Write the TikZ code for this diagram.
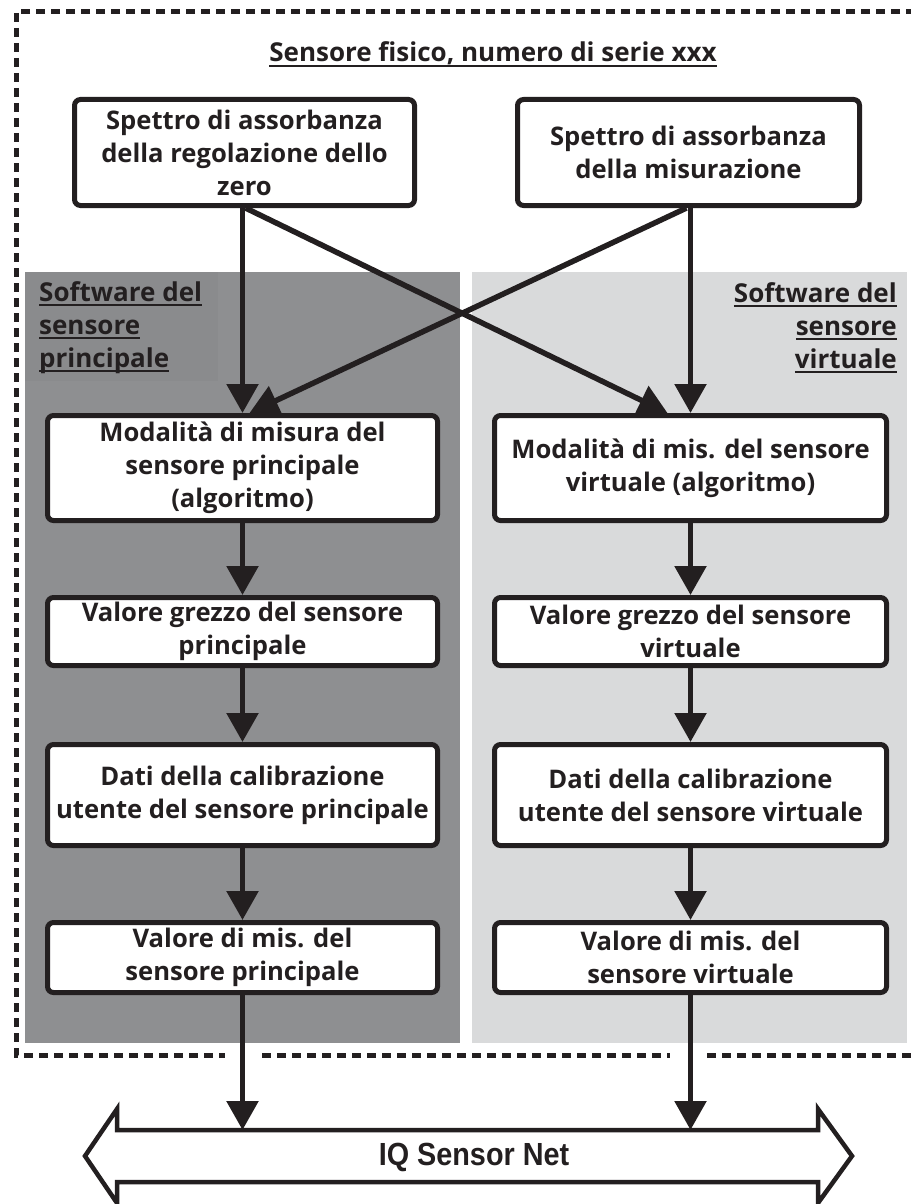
\documentclass[tikz,border=0pt]{standalone}
\usepackage{fontspec}
\setmainfont{Open Sans}
\newfontfamily\busfont{Liberation Sans}[FakeStretch=0.9]
\newcommand\myul[1]{\setbox0=\hbox{#1}\rlap{\rule[-5pt]{\wd0}{2pt}}\box0}
\usetikzlibrary{arrows.meta}
\definecolor{ink}{HTML}{231F20}
\definecolor{darkpanel}{HTML}{8E8F91}
\definecolor{labelpanel}{HTML}{8A8B8D}
\definecolor{lightpanel}{HTML}{D9DADB}
\tikzset{
  box/.style={draw=ink, line width=5pt, rounded corners=6pt, fill=white, inner sep=0pt,
    align=center, text=ink, font=\bfseries\fontsize{25.6}{33}\selectfont},
  flow/.style={draw=ink, line width=5.5pt, -{Triangle[length=29pt,width=31pt]}},
  border/.style={draw=ink, line width=5pt, dash pattern=on 9pt off 6pt},
  paneltext/.style={inner sep=0pt, text=ink, font=\bfseries\fontsize{26}{33}\selectfont},
  busshape/.style={draw=ink, line width=4.5pt, fill=white, miter limit=20},
}
\begin{document}
\begin{tikzpicture}[x=1pt,y=-1pt]
\useasboundingbox (0,0) rectangle (910,1204);
% panels
\fill[darkpanel] (25,272) rectangle (460,1043);
\fill[labelpanel] (25,272) rectangle (218,381);
\fill[lightpanel] (472,272) rectangle (907,1043);
% outer dashed border
\draw[border] (930,12) -- (16,12) -- (16,1055) -- (225,1055);
\draw[border] (262,1055) -- (670,1055);
\draw[border] (707,1055) -- (930,1055);
% title
\node[paneltext, anchor=base] (title) at (493,62) {\myul{Sensore fisico, numero di serie xxx}};
% panel labels (base anchor = last line)
\node[paneltext, align=left, anchor=base west] (lsw) at (39,367) {\myul{Software del}\\\myul{sensore}\\\myul{principale}};
\node[paneltext, align=right, anchor=base east] (rsw) at (897,368) {\myul{Software del}\\\myul{sensore}\\\myul{virtuale}};
% top boxes
\node[box, minimum width=340pt, minimum height=106pt] (zero) at (244.5,152.5) {Spettro di assorbanza\\della regolazione dello\\zero};
\node[box, minimum width=342pt, minimum height=106pt] (meas) at (688.5,152.5) {Spettro di assorbanza\\della misurazione};
% left column
\node[box, minimum width=390pt, minimum height=105pt] (lm) at (242.5,468) {Modalità di misura del\\sensore principale\\(algoritmo)};
\node[box, minimum width=390pt, minimum height=68pt] (lg) at (242.5,631.5) {Valore grezzo del sensore\\principale};
\node[box, minimum width=390pt, minimum height=101pt] (ld) at (242.5,795) {Dati della calibrazione\\utente del sensore principale};
\node[box, minimum width=390pt, minimum height=70pt] (lv) at (242.5,957.5) {Valore di mis. del\\sensore principale};
% right column
\node[box, minimum width=392pt, minimum height=105pt] (rm) at (690.5,468) {Modalità di mis. del sensore\\virtuale (algoritmo)};
\node[box, minimum width=392pt, minimum height=68pt] (rg) at (690.5,631.5) {Valore grezzo del sensore\\virtuale};
\node[box, minimum width=392pt, minimum height=101pt] (rd) at (690.5,795) {Dati della calibrazione\\utente del sensore virtuale};
\node[box, minimum width=392pt, minimum height=70pt] (rv) at (690.5,957.5) {Valore di mis. del\\sensore virtuale};
% bus
\draw[busshape] (85,1156) -- (117,1109) -- (117,1130) -- (818,1130) -- (818,1109) -- (852,1156)
  -- (818,1203) -- (818,1182) -- (117,1182) -- (117,1203) -- cycle;
\node[text=ink, font=\busfont\bfseries\fontsize{32}{34}\selectfont] (bus) at (474,1157) {IQ Sensor Net};
\coordinate (lbus) at (242.5,1130);
\coordinate (rbus) at (690.5,1130);
% connectors
\draw[flow] (zero.south -| lm.north) -- (lm.north);
\draw[flow] (meas.south -| rm.north) -- (rm.north);
\draw[flow] ([xshift=1pt]zero.south) -- ([xshift=-23pt]rm.north);
\draw[flow] ([xshift=-2pt]meas.south) -- ([xshift=7pt]lm.north);
\draw[flow] (lm.south) -- (lg.north);
\draw[flow] (lg.south) -- (ld.north);
\draw[flow] (ld.south) -- (lv.north);
\draw[flow] (lv.south) -- (lbus);
\draw[flow] (rm.south) -- (rg.north);
\draw[flow] (rg.south) -- (rd.north);
\draw[flow] (rd.south) -- (rv.north);
\draw[flow] (rv.south) -- (rbus);
\end{tikzpicture}
\end{document}
